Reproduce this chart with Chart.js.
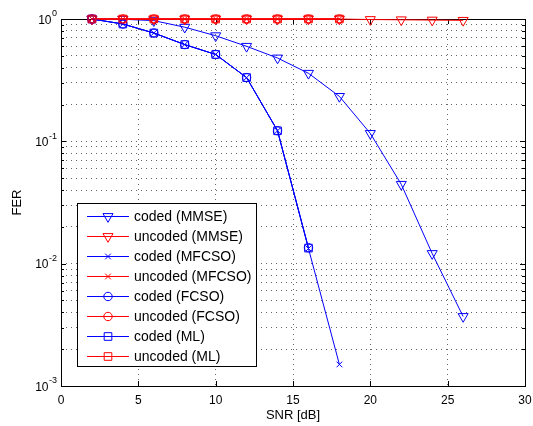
<!DOCTYPE html>
<html>
<head>
<meta charset="utf-8">
<script src="https://cdn.jsdelivr.net/npm/chart.js@4.4.0/dist/chart.umd.min.js"></script>
<style>
  html, body { margin: 0; padding: 0; background: #fff; }
</style>
</head>
<body>
<canvas id="chart" width="533" height="426"></canvas>
<script>
// SNR points (dB)
const snrLong = [2, 4, 6, 8, 10, 12, 14, 16, 18, 20, 22, 24, 26];
const snrShort = [2, 4, 6, 8, 10, 12, 14, 16, 18];
const snrCoded = [2, 4, 6, 8, 10, 12, 14, 16];

// FER values
const codedMmse = [1.0, 0.995, 0.97, 0.857, 0.73, 0.598, 0.48, 0.36, 0.233, 0.116, 0.0445, 0.0121, 0.0037];
const uncodedMmse = [1, 1, 1, 1, 1, 1, 1, 1, 1, 0.99, 0.985, 0.98, 0.975];
const codedMfcso = [1.0, 0.91, 0.768, 0.618, 0.513, 0.332, 0.122, 0.0133, 0.0015];
const uncodedMfcso = [1, 1, 1, 1, 1, 1, 1, 1, 1];
const codedFcso = [1.0, 0.91, 0.768, 0.618, 0.513, 0.332, 0.122, 0.0135];
const uncodedFcso = [1, 1, 1, 1, 1, 1, 1, 1, 1];
const codedMl = [1.0, 0.91, 0.768, 0.618, 0.513, 0.332, 0.122, 0.0134];
const uncodedMl = [1, 1, 1, 1, 1, 1, 1, 1, 1];

const xTicks = [0, 5, 10, 15, 20, 25, 30];
const yTickExps = [-3, -2, -1, 0];

const BLUE = 'rgb(0,0,255)';
const RED = 'rgb(255,0,0)';
const FONT = "'Liberation Sans', Arial, Helvetica, sans-serif";

function pts(xs, ys) {
  return ys.map((v, i) => ({ x: xs[i], y: v }));
}

function series(label, xs, ys, color, style, radius, rot) {
  return {
    label: label,
    data: pts(xs, ys),
    borderColor: color,
    backgroundColor: 'rgba(0,0,0,0)',
    borderWidth: 1,
    pointStyle: style,
    pointRadius: radius,
    pointRotation: rot || 0,
    pointBorderColor: color,
    pointBackgroundColor: 'rgba(0,0,0,0)',
    pointBorderWidth: 1,
    tension: 0,
    clip: false
  };
}

const datasets = [
  series('coded (MMSE)', snrLong, codedMmse, BLUE, 'triangle', 5.8, 180),
  series('uncoded (MMSE)', snrLong, uncodedMmse, RED, 'triangle', 5.8, 180),
  series('coded (MFCSO)', snrShort, codedMfcso, BLUE, 'crossRot', 4),
  series('uncoded (MFCSO)', snrShort, uncodedMfcso, RED, 'crossRot', 4),
  series('coded (FCSO)', snrCoded, codedFcso, BLUE, 'circle', 4.2),
  series('uncoded (FCSO)', snrShort, uncodedFcso, RED, 'circle', 4.2),
  series('coded (ML)', snrCoded, codedMl, BLUE, 'rect', 5.4),
  series('uncoded (ML)', snrShort, uncodedMl, RED, 'rect', 5.4)
];
// later series drawn on top, like matlab
datasets.forEach((d, i) => { d.order = datasets.length - i; });

// axes box + inward tick marks + y labels with exponents
const axesPlugin = {
  id: 'axesBox',
  beforeDatasetsDraw(chart) {
    const ctx = chart.ctx;
    const a = chart.chartArea;
    const xs = chart.scales.x, ys = chart.scales.y;
    ctx.save();
    ctx.strokeStyle = '#000';
    ctx.lineWidth = 1;
    ctx.beginPath();
    xTicks.forEach(v => {
      const px = Math.round(xs.getPixelForValue(v)) + 0.5;
      ctx.moveTo(px, a.bottom); ctx.lineTo(px, a.bottom - 5);
      ctx.moveTo(px, a.top); ctx.lineTo(px, a.top + 5);
    });
    ys.ticks.forEach(t => {
      const py = Math.round(ys.getPixelForValue(t.value)) + 0.5;
      const len = t.major ? 5 : 3;
      ctx.moveTo(a.left, py); ctx.lineTo(a.left + len, py);
      ctx.moveTo(a.right, py); ctx.lineTo(a.right - len, py);
    });
    ctx.stroke();
    ctx.strokeRect(Math.round(a.left) + 0.5, Math.round(a.top) + 0.5,
      Math.round(a.right - a.left), Math.round(a.bottom - a.top));
    ctx.restore();
  },
  afterDraw(chart) {
    const ctx = chart.ctx;
    const ys = chart.scales.y;
    ctx.save();
    ctx.fillStyle = '#000';
    yTickExps.forEach(e => {
      const py = ys.getPixelForValue(Math.pow(10, e));
      const sup = String(e);
      ctx.font = '9px ' + FONT;
      const w = ctx.measureText(sup).width;
      const right = 57;
      ctx.textAlign = 'left';
      ctx.textBaseline = 'middle';
      ctx.fillText(sup, right - w, py - 5);
      ctx.font = '12px ' + FONT;
      ctx.textAlign = 'right';
      ctx.fillText('10', right - w - 0.5, py + 1.5);
    });
    ctx.restore();
  }
};

// legend box inside the axes, bottom left
const legendPlugin = {
  id: 'boxLegend',
  afterDraw(chart) {
    const ctx = chart.ctx;
    const box = { x: 77.5, y: 203.5, w: 179, h: 163 };
    ctx.save();
    ctx.fillStyle = '#fff';
    ctx.fillRect(box.x, box.y, box.w, box.h);
    ctx.strokeStyle = '#000';
    ctx.lineWidth = 1;
    ctx.strokeRect(box.x, box.y, box.w, box.h);
    chart.data.datasets.forEach((d, i) => {
      const y = 216 + i * 20;
      ctx.strokeStyle = d.borderColor;
      ctx.lineWidth = 1;
      ctx.beginPath();
      ctx.moveTo(87, y + 0.5);
      ctx.lineTo(129, y + 0.5);
      ctx.stroke();
      ctx.fillStyle = 'rgba(0,0,0,0)';
      Chart.helpers.drawPoint(ctx, {
        pointStyle: d.pointStyle,
        radius: d.pointRadius,
        rotation: d.pointRotation,
        borderWidth: 1
      }, 108, y + 0.5);
      ctx.fillStyle = '#000';
      ctx.font = '14px ' + FONT;
      ctx.textAlign = 'left';
      ctx.textBaseline = 'middle';
      ctx.fillText(d.label, 134, y + 1);
    });
    ctx.restore();
  }
};

const gridStyle = {
  color: 'rgba(0,0,0,0.6)',
  lineWidth: 1,
  borderDash: [1, 4],
  drawTicks: false,
  tickLength: 0
};

new Chart(document.getElementById('chart').getContext('2d'), {
  type: 'line',
  data: { datasets: datasets },
  options: {
    responsive: false,
    animation: false,
    layout: { padding: { top: 19, right: 8, bottom: 0, left: 0 } },
    plugins: { legend: { display: false }, tooltip: { enabled: false } },
    scales: {
      x: {
        type: 'linear',
        min: 0,
        max: 30,
        afterBuildTicks: s => { s.ticks = xTicks.map(v => ({ value: v })); },
        afterFit: s => { s.height = 40; s.paddingLeft = 0; s.paddingRight = 0; },
        ticks: { color: '#000', font: { family: FONT, size: 12 }, padding: 7, maxRotation: 0 },
        grid: gridStyle,
        border: { display: false, dash: [1, 4] },
        title: { display: true, text: 'SNR [dB]', color: '#000', font: { family: FONT, size: 13 }, padding: { top: 0, bottom: 3 } }
      },
      y: {
        type: 'logarithmic',
        min: 0.001,
        max: 1,
        afterBuildTicks: s => {
          const t = [];
          yTickExps.forEach(e => {
            for (let m = 1; m <= 9; m++) {
              const v = m * Math.pow(10, e);
              if (v <= 1.0000001) t.push({ value: v, major: m === 1 });
            }
          });
          s.ticks = t;
        },
        afterFit: s => { s.width = 61; s.paddingTop = 0; s.paddingBottom = 0; },
        ticks: { display: false },
        grid: gridStyle,
        border: { display: false, dash: [1, 4] },
        title: { display: true, text: 'FER', color: '#000', font: { family: FONT, size: 13 }, padding: { top: 10, bottom: 0 } }
      }
    }
  },
  plugins: [axesPlugin, legendPlugin]
});
</script>
</body>
</html>
